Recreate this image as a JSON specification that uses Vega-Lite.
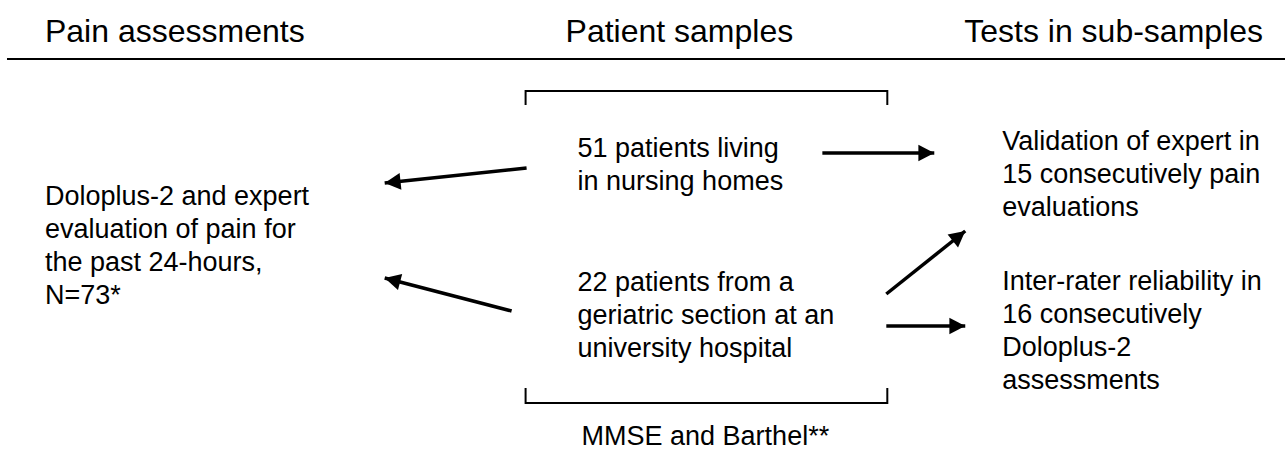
{
  "$schema": "https://vega.github.io/schema/vega-lite/v6.json",
  "width": 1286,
  "height": 460,
  "padding": 0,
  "autosize": {"type": "fit", "contains": "padding"},
  "background": "white",
  "config": {"view": {"stroke": null}},
  "datasets": {
    "lines": [
      {"part": "header rule", "x": 7, "y": 59, "x2": 1286, "y2": 59},
      {"part": "bracket top", "x": 526, "y": 91, "x2": 888, "y2": 91},
      {"part": "bracket top left", "x": 526, "y": 90, "x2": 526, "y2": 105},
      {"part": "bracket top right", "x": 888, "y": 90, "x2": 888, "y2": 105},
      {"part": "bracket bottom", "x": 526, "y": 403, "x2": 888, "y2": 403},
      {"part": "bracket bottom left", "x": 526, "y": 388, "x2": 526, "y2": 404},
      {"part": "bracket bottom right", "x": 888, "y": 388, "x2": 888, "y2": 404}
    ],
    "arrows": [
      {"from": "51 patients", "to": "Pain assessment", "x": 527, "y": 168, "x2": 385, "y2": 183, "angle": 264},
      {"from": "22 patients", "to": "Pain assessment", "x": 512, "y": 311, "x2": 385, "y2": 278, "angle": 284.6},
      {"from": "51 patients", "to": "Validation", "x": 823, "y": 153, "x2": 935, "y2": 153, "angle": 90},
      {"from": "22 patients", "to": "Validation", "x": 887, "y": 294, "x2": 966, "y2": 231, "angle": 51.4},
      {"from": "22 patients", "to": "Inter-rater", "x": 887, "y": 326, "x2": 966, "y2": 326, "angle": 90}
    ],
    "headers": [
      {"label": "Pain assessments", "x": 45, "y": 42},
      {"label": "Patient samples", "x": 566, "y": 42},
      {"label": "Tests in sub-samples", "x": 965, "y": 42}
    ],
    "boxes": [
      {"label": "Doloplus-2 and expert\nevaluation of pain for\nthe past 24-hours,\nN=73*", "x": 45, "y": 205},
      {"label": "51 patients living\nin nursing homes", "x": 578, "y": 157},
      {"label": "22 patients from a\ngeriatric section at an\nuniversity hospital", "x": 578, "y": 291},
      {"label": "Validation of expert in\n15 consecutively pain\nevaluations", "x": 1003, "y": 150},
      {"label": "Inter-rater reliability in\n16 consecutively\nDoloplus-2\nassessments", "x": 1003, "y": 290},
      {"label": "MMSE and Barthel**", "x": 582, "y": 445}
    ]
  },
  "layer": [
    {
      "data": {"name": "lines"},
      "mark": {"type": "rule", "color": "black", "strokeWidth": 2, "strokeCap": "butt"},
      "encoding": {
        "x": {"field": "x", "type": "quantitative", "scale": {"domain": [0, 1286], "zero": false, "nice": false}, "axis": null},
        "y": {"field": "y", "type": "quantitative", "scale": {"domain": [0, 460], "zero": false, "nice": false, "reverse": true}, "axis": null},
        "x2": {"field": "x2"},
        "y2": {"field": "y2"}
      }
    },
    {
      "data": {"name": "arrows"},
      "mark": {"type": "rule", "color": "black", "strokeWidth": 3.5, "strokeCap": "butt"},
      "encoding": {
        "x": {"field": "x", "type": "quantitative", "scale": {"domain": [0, 1286], "zero": false, "nice": false}, "axis": null},
        "y": {"field": "y", "type": "quantitative", "scale": {"domain": [0, 460], "zero": false, "nice": false, "reverse": true}, "axis": null},
        "x2": {"field": "x2"},
        "y2": {"field": "y2"}
      }
    },
    {
      "data": {"name": "arrows"},
      "mark": {"type": "point", "shape": "M0,0L-1,1.9L1,1.9Z", "filled": true, "color": "black", "opacity": 1, "size": 280, "strokeWidth": 0},
      "encoding": {
        "x": {"field": "x2", "type": "quantitative", "scale": {"domain": [0, 1286], "zero": false, "nice": false}, "axis": null},
        "y": {"field": "y2", "type": "quantitative", "scale": {"domain": [0, 460], "zero": false, "nice": false, "reverse": true}, "axis": null},
        "angle": {"field": "angle", "type": "quantitative", "scale": null}
      }
    },
    {
      "data": {"name": "headers"},
      "mark": {"type": "text", "align": "left", "baseline": "alphabetic", "font": "Liberation Sans", "fontSize": 32, "color": "black"},
      "encoding": {
        "x": {"field": "x", "type": "quantitative", "scale": {"domain": [0, 1286], "zero": false, "nice": false}, "axis": null},
        "y": {"field": "y", "type": "quantitative", "scale": {"domain": [0, 460], "zero": false, "nice": false, "reverse": true}, "axis": null},
        "text": {"field": "label"}
      }
    },
    {
      "data": {"name": "boxes"},
      "mark": {"type": "text", "align": "left", "baseline": "alphabetic", "font": "Liberation Sans", "fontSize": 27, "lineHeight": 33, "lineBreak": "\n", "color": "black"},
      "encoding": {
        "x": {"field": "x", "type": "quantitative", "scale": {"domain": [0, 1286], "zero": false, "nice": false}, "axis": null},
        "y": {"field": "y", "type": "quantitative", "scale": {"domain": [0, 460], "zero": false, "nice": false, "reverse": true}, "axis": null},
        "text": {"field": "label"}
      }
    }
  ]
}
